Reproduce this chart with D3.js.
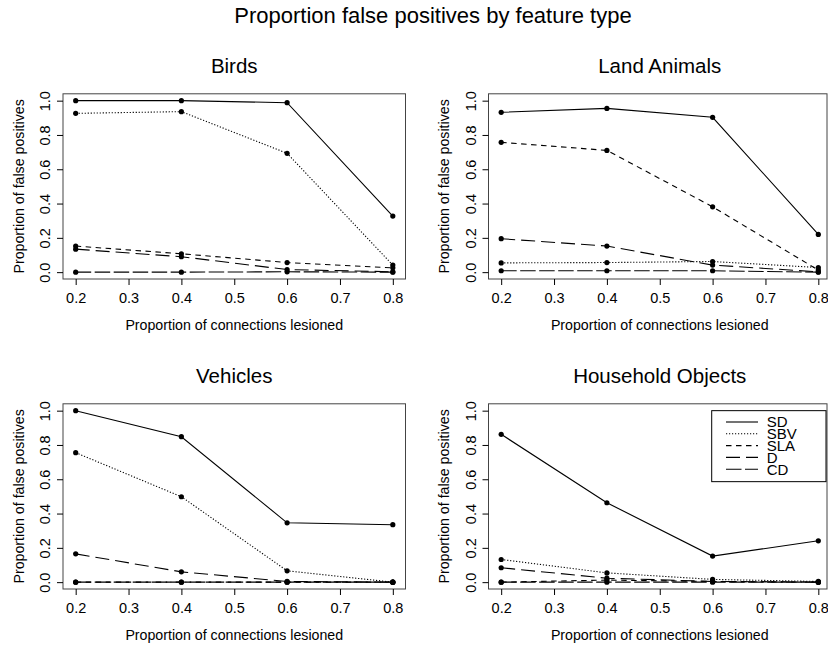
<!DOCTYPE html>
<html>
<head>
<meta charset="utf-8">
<script src="https://cdn.jsdelivr.net/npm/d3@7"></script>
<style>
  body { margin: 0; background: #fff; }
  svg { display: block; font-family: "Liberation Sans", Arial, Helvetica, sans-serif; }
</style>
</head>
<body>
<div class="canvas"></div>
<script>
const w = 828;
const h = 645;

// data
const lesion = [0.2, 0.4, 0.6, 0.8];
const features = ["SD", "SBV", "SLA", "D", "CD"];
const panelNames = ["Birds", "Land Animals", "Vehicles", "Household Objects"];

// rows in the order of features: SD, SBV, SLA, D, CD
const birds = [
  [1.0, 1.0, 0.988, 0.327],
  [0.926, 0.936, 0.693, 0.041],
  [0.152, 0.107, 0.056, 0.025],
  [0.134, 0.09, 0.015, 0.002],
  [0.0, 0.0, 0.002, 0.0]
];
const landAnimals = [
  [0.932, 0.955, 0.903, 0.22],
  [0.054, 0.056, 0.062, 0.027],
  [0.757, 0.71, 0.381, 0.012],
  [0.195, 0.152, 0.041, 0.002],
  [0.008, 0.008, 0.008, 0.0]
];
const vehicles = [
  [1.0, 0.848, 0.346, 0.335],
  [0.755, 0.498, 0.066, 0.0],
  [0.0, 0.0, 0.0, 0.0],
  [0.165, 0.06, 0.004, 0.0],
  [0.0, 0.0, 0.0, 0.0]
];
const household = [
  [0.862, 0.463, 0.152, 0.241],
  [0.132, 0.054, 0.016, 0.004],
  [0.0, 0.012, 0.004, 0.0],
  [0.084, 0.023, 0.004, 0.0],
  [0.0, 0.0, 0.0, 0.0]
];
const panelData = [birds, landAnimals, vehicles, household];

const xTicks = [0.2, 0.3, 0.4, 0.5, 0.6, 0.7, 0.8];
const yTicks = [0.0, 0.2, 0.4, 0.6, 0.8, 1.0];

// line types per feature
const dashes = [null, "1.2,1.8", "5.5,4.5", "14,6", "15.5,3.5"];

const colW = 425.5, rowH = 310;
const box = {left: 63, right: 405.5, top: 93.8, bottom: 279};

const x = d3.scaleLinear().domain([0.176, 0.824]).range([box.left, box.right]);
const y = d3.scaleLinear().domain([-0.04, 1.04]).range([box.bottom, box.top]);

const svg = d3.select(".canvas")
  .append("svg")
  .attr("width", w)
  .attr("height", h);

svg.append("rect").attr("width", w).attr("height", h).attr("fill", "#fff");

svg.append("text")
  .attr("x", 433)
  .attr("y", 22.5)
  .attr("text-anchor", "middle")
  .style("font-size", "22px")
  .text("Proportion false positives by feature type");

const line = d3.line()
  .x((d, i) => x(lesion[i]))
  .y(d => y(d));

panelData.forEach((series, p) => {
  const col = p % 2, row = Math.floor(p / 2);
  const g = svg.append("g")
    .attr("transform", "translate(" + (col * colW) + "," + (row * rowH) + ")");

  const right = Math.min(box.right, 827 - col * colW);
  g.append("rect")
    .attr("x", box.left)
    .attr("y", box.top)
    .attr("width", right - box.left)
    .attr("height", box.bottom - box.top)
    .attr("fill", "none")
    .attr("stroke", "#444")
    .attr("stroke-width", 1);

  // x axis
  const xa = g.append("g")
    .attr("transform", "translate(0," + box.bottom + ")")
    .call(d3.axisBottom(x).tickValues(xTicks).tickSize(6).tickFormat(d3.format(".1f")));
  xa.select(".domain").remove();
  xa.selectAll("text").attr("y", 24).attr("dy", 0).style("font-size", "14.5px").attr("font-family", null);

  // y axis
  const ya = g.append("g")
    .attr("transform", "translate(" + box.left + ",0)")
    .call(d3.axisLeft(y).tickValues(yTicks).tickSize(6).tickFormat(d3.format(".1f")));
  ya.select(".domain").remove();
  ya.selectAll("text")
    .attr("x", 0).attr("dy", 0)
    .attr("text-anchor", "middle")
    .attr("transform", "translate(-13,0) rotate(-90)")
    .style("font-size", "14.5px")
    .attr("font-family", null);
  g.selectAll(".tick line").attr("stroke", "#000");

  g.append("text")
    .attr("x", (box.left + box.right) / 2)
    .attr("y", 72.5)
    .attr("text-anchor", "middle")
    .style("font-size", "20.5px")
    .text(panelNames[p]);

  g.append("text")
    .attr("x", (box.left + box.right) / 2)
    .attr("y", 330)
    .attr("text-anchor", "middle")
    .style("font-size", "14.2px")
    .text("Proportion of connections lesioned");

  g.append("text")
    .attr("transform", "translate(23.5," + ((box.top + box.bottom) / 2) + ") rotate(-90)")
    .attr("text-anchor", "middle")
    .style("font-size", "14.2px")
    .text("Proportion of false positives");

  series.forEach((vals, k) => {
    g.append("path")
      .datum(vals)
      .attr("d", line)
      .attr("fill", "none")
      .attr("stroke", "#000")
      .attr("stroke-width", 1.1)
      .attr("stroke-dasharray", dashes[k]);

    g.selectAll(".pt" + k)
      .data(vals)
      .enter().append("circle")
      .attr("cx", (d, i) => x(lesion[i]))
      .attr("cy", d => y(d))
      .attr("r", 2.6)
      .attr("fill", "#000");
  });

  // legend in the last panel
  if (p === 3) {
    const lg = g.append("g").attr("class", "legend");
    lg.append("rect")
      .attr("x", 286.2)
      .attr("y", y(1.0))
      .attr("width", 114.3)
      .attr("height", 71)
      .attr("fill", "#fff")
      .attr("stroke", "#000");
    const items = lg.selectAll(".item")
      .data(features)
      .enter().append("g")
      .attr("transform", (d, i) => "translate(0," + (112 + i * 11.8) + ")");
    items.append("line")
      .attr("x1", 300.5).attr("x2", 332.5)
      .attr("stroke", "#000")
      .attr("stroke-width", 1.1)
      .attr("stroke-dasharray", (d, i) => dashes[i]);
    items.append("text")
      .attr("x", 341.2)
      .attr("y", 5.3)
      .style("font-size", "15px")
      .text(d => d);
  }
});
</script>
</body>
</html>
